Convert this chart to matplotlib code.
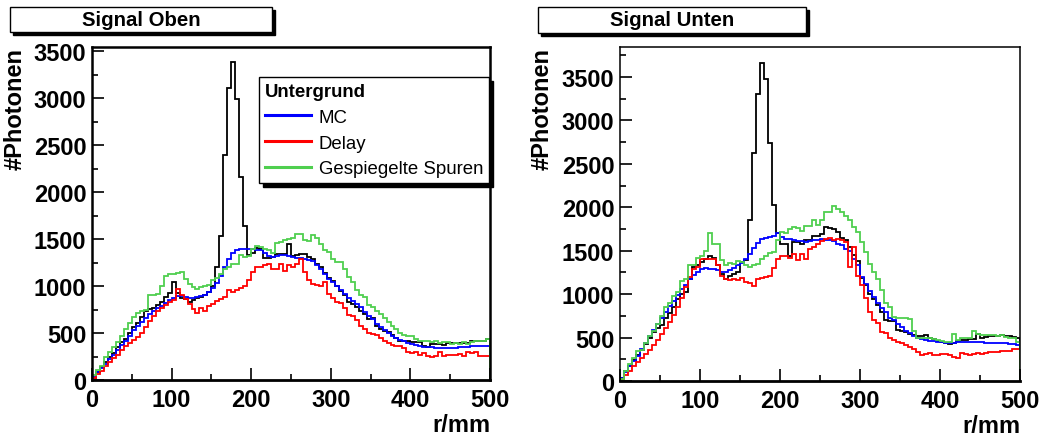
import numpy as np
import matplotlib
matplotlib.use("Agg")
import matplotlib.pyplot as plt
from matplotlib.lines import Line2D
from matplotlib.patches import Rectangle

plt.rcParams['font.family'] = ['Liberation Sans', 'DejaVu Sans']

# r/mm: 100 bins of 5 mm
r_edges = np.linspace(0, 500, 101)

# --- Signal Oben ---
oben_signal = [20, 80, 140, 190, 250, 290, 350, 400, 440, 500, 560, 610, 670, 730, 760, 770, 800, 830, 880, 930,
               1040, 930, 870, 860, 830, 850, 870, 880, 900, 940, 1000, 1200, 1530, 2400, 3110, 3390, 2990, 2160, 1640, 1330,
               1350, 1410, 1400, 1300, 1300, 1310, 1340, 1340, 1340, 1450, 1320, 1330, 1340, 1340, 1310, 1290, 1240, 1200, 1140, 1090,
               1050, 1000, 950, 900, 830, 810, 780, 740, 700, 650, 660, 580, 540, 520, 510, 480, 450, 420, 410, 410,
               400, 400, 405, 360, 350, 385, 380, 385, 375, 390, 390, 395, 390, 395, 390, 410, 420, 410, 420, 440]
oben_mc = [30, 90, 130, 170, 220, 270, 320, 370, 420, 470, 530, 580, 620, 660, 700, 740, 770, 790, 820, 850,
           870, 890, 890, 880, 870, 870, 880, 890, 910, 940, 980, 1030, 1110, 1200, 1290, 1350, 1380, 1390, 1390, 1390,
           1390, 1380, 1380, 1350, 1320, 1310, 1320, 1330, 1330, 1320, 1310, 1300, 1300, 1290, 1280, 1270, 1220, 1180, 1130, 1080,
           1040, 1000, 960, 920, 870, 840, 810, 780, 720, 680, 650, 600, 560, 530, 500, 470, 450, 425, 410, 395,
           385, 375, 365, 355, 350, 350, 345, 345, 345, 345, 340, 345, 350, 355, 355, 360, 360, 365, 365, 365]
oben_delay = [20, 60, 100, 150, 190, 230, 270, 320, 360, 390, 430, 460, 500, 560, 630, 680, 730, 770, 800, 830,
              850, 970, 900, 860, 810, 760, 710, 770, 740, 790, 810, 840, 860, 880, 960, 940, 960, 980, 1000, 1060,
              1150, 1200, 1200, 1220, 1230, 1180, 1180, 1230, 1160, 1220, 1200, 1230, 1290, 1150, 1060, 1020, 1010, 1000, 1040, 920,
              870, 830, 820, 770, 690, 680, 640, 580, 540, 500, 490, 480, 450, 420, 390, 370, 360, 360, 340, 300,
              290, 300, 270, 290, 260, 250, 260, 300, 260, 270, 270, 270, 280, 260, 300, 290, 300, 260, 260, 260]
oben_spiegel = [50, 110, 150, 240, 300, 350, 400, 470, 540, 610, 670, 710, 730, 750, 900, 910, 920, 1000, 1110, 1130,
                1130, 1140, 1150, 1080, 1020, 990, 970, 990, 1000, 1010, 1060, 1090, 1130, 1180, 1200, 1230, 1230, 1330, 1310, 1320,
                1400, 1430, 1420, 1400, 1380, 1350, 1460, 1470, 1490, 1500, 1510, 1560, 1550, 1490, 1480, 1540, 1510, 1450, 1380, 1360,
                1290, 1260, 1260, 1180, 1100, 1040, 960, 910, 880, 800, 780, 730, 700, 660, 620, 580, 540, 500, 480, 470,
                470, 440, 420, 410, 420, 400, 410, 390, 400, 400, 380, 390, 380, 400, 380, 400, 420, 410, 420, 440]

# --- Signal Unten ---
unten_signal = [40, 110, 170, 240, 300, 360, 430, 500, 560, 610, 650, 720, 780, 850, 940, 1000, 1030, 1170, 1310, 1340,
                1370, 1400, 1440, 1420, 1330, 1230, 1170, 1210, 1230, 1260, 1370, 1390, 1850, 2620, 3300, 3660, 3480, 2740, 2030, 1700,
                1580, 1580, 1440, 1600, 1600, 1580, 1620, 1620, 1670, 1670, 1690, 1770, 1760, 1750, 1710, 1650, 1620, 1540, 1450, 1380,
                1180, 1100, 1000, 940, 870, 790, 700, 690, 690, 590, 570, 560, 540, 530, 520, 520, 530, 490, 480, 460,
                450, 440, 430, 440, 460, 470, 470, 480, 480, 540, 490, 510, 520, 520, 520, 530, 520, 520, 510, 490]
unten_mc = [30, 100, 170, 230, 290, 370, 440, 520, 590, 660, 720, 790, 860, 920, 990, 1060, 1110, 1170, 1220, 1260,
            1290, 1300, 1290, 1290, 1280, 1260, 1250, 1280, 1300, 1330, 1360, 1400, 1460, 1530, 1590, 1630, 1650, 1660, 1670, 1700,
            1660, 1640, 1630, 1620, 1610, 1610, 1600, 1610, 1620, 1620, 1640, 1620, 1620, 1610, 1580, 1570, 1520, 1500, 1400, 1340,
            1200, 1120, 1040, 970, 900, 840, 790, 720, 700, 660, 620, 580, 550, 520, 500, 480, 470, 460, 455, 450,
            445, 440, 440, 440, 445, 445, 445, 445, 445, 445, 445, 440, 440, 440, 440, 440, 435, 430, 425, 420]
unten_delay = [20, 70, 120, 170, 220, 260, 310, 360, 410, 470, 540, 610, 680, 760, 850, 960, 1080, 1200, 1290, 1310,
               1400, 1400, 1400, 1400, 1340, 1210, 1170, 1160, 1170, 1160, 1180, 1140, 1130, 1090, 1170, 1180, 1200, 1210, 1300, 1400,
               1440, 1440, 1420, 1460, 1390, 1460, 1400, 1520, 1540, 1580, 1610, 1630, 1650, 1620, 1630, 1620, 1600, 1310, 1540, 1210,
               1100, 950, 800, 700, 670, 560, 550, 500, 470, 450, 440, 410, 390, 370, 330, 300, 310, 320, 300, 300,
               310, 310, 300, 280, 270, 320, 310, 300, 310, 320, 310, 320, 330, 330, 330, 340, 350, 350, 370, 370]
unten_spiegel = [20, 120, 190, 260, 350, 360, 440, 520, 580, 660, 750, 850, 900, 980, 1020, 1150, 1170, 1330, 1340, 1420,
                 1440, 1500, 1700, 1580, 1580, 1390, 1330, 1360, 1350, 1380, 1370, 1340, 1310, 1340, 1350, 1400, 1440, 1470, 1480, 1620,
                 1710, 1700, 1750, 1770, 1760, 1730, 1780, 1780, 1850, 1800, 1850, 1940, 1950, 2020, 1980, 1940, 1900, 1850, 1770, 1720,
                 1600, 1480, 1350, 1250, 1170, 1050, 900, 850, 740, 730, 720, 720, 710, 580, 500, 490, 490, 490, 485, 470,
                 455, 450, 450, 540, 470, 490, 500, 490, 570, 540, 530, 530, 525, 525, 520, 530, 510, 500, 490, 450]

legend_title = "Untergrund"
legend_labels = ["MC", "Delay", "Gespiegelte Spuren"]
col_mc = "#0000ff"
col_delay = "#ff0000"
col_spiegel = "#4fcf4f"

W, H = 1043, 439
fig = plt.figure(figsize=(W / 100, H / 100), dpi=100)


def px(x0, y0, x1, y1):
    # pixel box (top-left origin) -> figure fraction [l, b, w, h]
    return [x0 / W, 1 - y1 / H, (x1 - x0) / W, (y1 - y0) / H]


def titlebox(x0, y0, x1, y1, text):
    l, b, w, h = px(x0, y0, x1, y1)
    sx, sy = 3 / W, 3 / H
    fig.patches.append(Rectangle((l + sx, b - sy), w, h, transform=fig.transFigure,
                                 facecolor="black", edgecolor="black", lw=1, zorder=1))
    fig.patches.append(Rectangle((l, b), w, h, transform=fig.transFigure,
                                 facecolor="white", edgecolor="black", lw=1, zorder=2))
    fig.text(l + w / 2, b + h / 2, text, ha="center", va="center",
             fontsize=14.7, fontweight="bold", zorder=3)


def panel(rect, ymax, signal, mc, delay, spiegel, spine_w, xlab_y, ylab_x):
    ax = fig.add_axes(rect)
    ax.stairs(signal, r_edges, baseline=0, color="black", lw=1.3)
    ax.stairs(mc, r_edges, baseline=0, color=col_mc, lw=1.3)
    ax.stairs(delay, r_edges, baseline=0, color=col_delay, lw=1.3)
    ax.stairs(spiegel, r_edges, baseline=0, color=col_spiegel, lw=1.3)
    ax.set_xlim(0, 500)
    ax.set_ylim(0, ymax)
    ax.set_xticks(np.arange(0, 501, 100))
    ax.set_xticks(np.arange(50, 500, 100), minor=True)
    ax.set_yticks(np.arange(0, ymax, 500))
    ax.set_yticks(np.arange(250, ymax, 500), minor=True)
    ax.tick_params(which="both", direction="in", top=False, right=False, width=1.2)
    ax.tick_params(which="major", length=8.5, labelsize=17, pad=4)
    ax.tick_params(which="minor", length=4.5)
    ax.tick_params(axis="x", which="major", pad=6)
    for lab in ax.get_xticklabels() + ax.get_yticklabels():
        lab.set_fontweight("bold")
    for s in ax.spines.values():
        s.set_linewidth(spine_w)
    ax.spines["bottom"].set_linewidth(2.0)
    ax.set_xlabel("r/mm", fontsize=17, fontweight="bold", loc="right")
    ax.xaxis.set_label_coords(1.0, xlab_y)
    ax.set_ylabel("#Photonen", fontsize=17, fontweight="bold", loc="top")
    ax.yaxis.set_label_coords(ylab_x, 1.0)
    return ax


ax1 = panel(px(92, 48, 490, 381), 3546, oben_signal, oben_mc, oben_delay, oben_spiegel, 1.8, -0.10, -0.165)
ax2 = panel(px(620, 48, 1020, 382), 3845, unten_signal, unten_mc, unten_delay, unten_spiegel, 1.1, -0.10, -0.165)

titlebox(10, 8, 272, 33, "Signal Oben")
titlebox(538, 8, 806, 34, "Signal Unten")

handles = [Line2D([], [], color=c, lw=2.2) for c in (col_mc, col_delay, col_spiegel)]
leg = fig.legend(handles, legend_labels, title=legend_title,
                 loc="upper left", bbox_to_anchor=(259 / W, 1 - 78 / H), borderaxespad=0,
                 fontsize=13.4, title_fontproperties={"weight": "bold", "size": 13.4},
                 alignment="left", frameon=True, fancybox=False, edgecolor="black",
                 framealpha=1, handlelength=2.5, handletextpad=0.4, labelspacing=0.48,
                 borderpad=0.3, shadow={"ox": 3, "oy": -3, "color": "black", "alpha": 1})
leg.get_frame().set_linewidth(1.0)

fig.savefig("out.png", dpi=100)
